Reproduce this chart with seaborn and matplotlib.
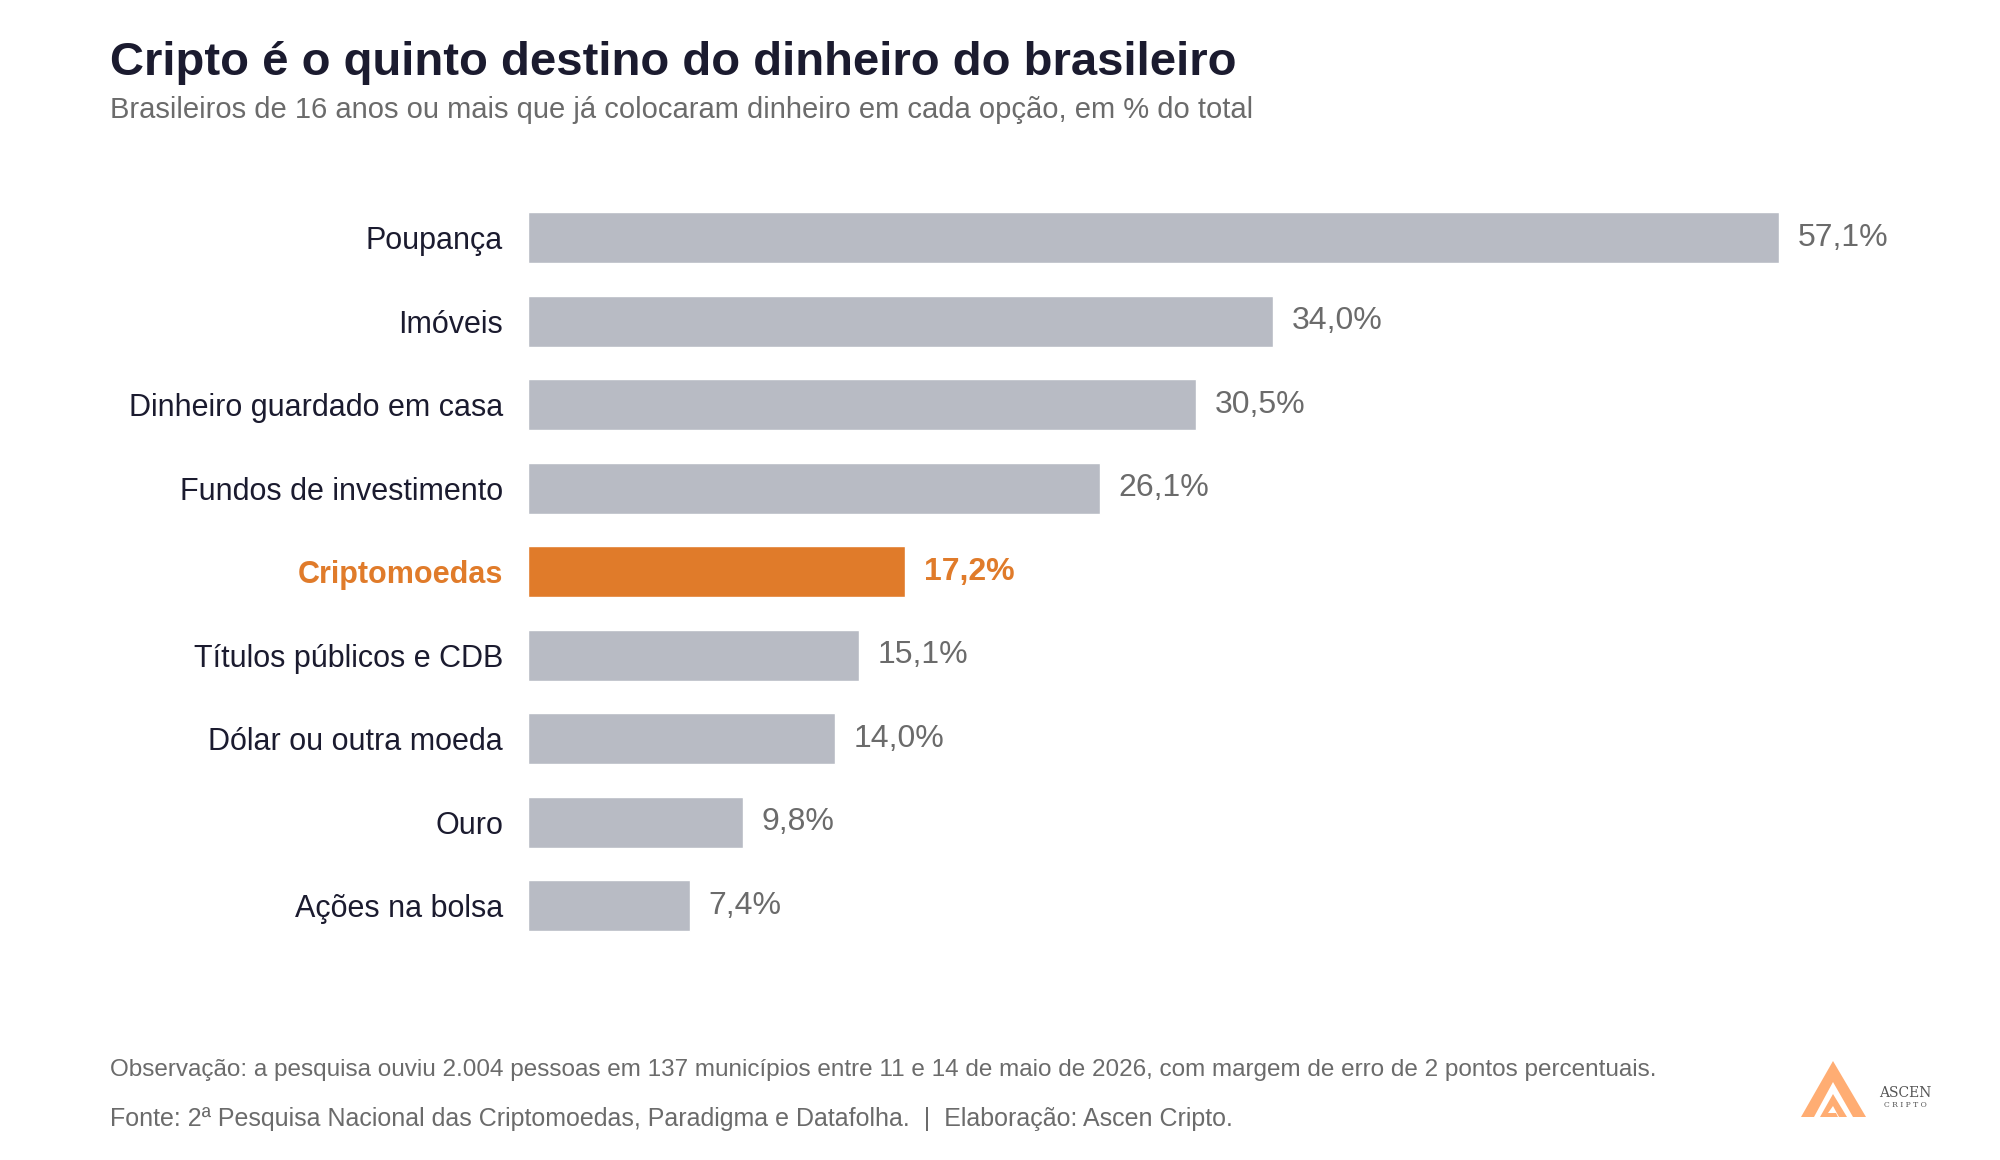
import matplotlib
matplotlib.use("Agg")
import matplotlib.pyplot as plt
import seaborn as sns
import pandas as pd
from matplotlib.patches import Polygon

# dados da pesquisa
categorias = ["Poupança", "Imóveis", "Dinheiro guardado em casa", "Fundos de investimento",
              "Criptomoedas", "Títulos públicos e CDB", "Dólar ou outra moeda", "Ouro",
              "Ações na bolsa"]
valores = [57.1, 34.0, 30.5, 26.1, 17.2, 15.1, 14.0, 9.8, 7.4]
destaque = "Criptomoedas"

CINZA = "#b8bbc4"
LARANJA = "#e07b2a"
ESCURO = "#1b1b2f"
TEXTO = "#6b6b6b"

sns.set_theme(style="white")
plt.rcParams["font.family"] = ["Liberation Sans", "DejaVu Sans"]

df = pd.DataFrame({"categoria": categorias, "valor": valores})
cores = {c: (LARANJA if c == destaque else CINZA) for c in categorias}

fig = plt.figure(figsize=(20, 11.6), dpi=100)
ax = fig.add_axes([0.264, 0.183, 0.686, 0.648])
sns.barplot(data=df, y="categoria", x="valor", hue="categoria", palette=cores,
            orient="h", width=0.61, legend=False, saturation=1, ax=ax)

ax.set_xlim(0, 62.6)
ax.set_ylim(len(categorias) - 0.5, -0.5)
ax.set_xlabel("")
ax.set_ylabel("")
ax.set_xticks([])
sns.despine(ax=ax, left=True, bottom=True)
ax.tick_params(axis="y", length=0, pad=18)
ax.set_yticks(range(len(categorias)))
ax.set_yticklabels(categorias, fontsize=22)
for lbl in ax.get_yticklabels():
    if lbl.get_text() == destaque:
        lbl.set_color(LARANJA)
        lbl.set_fontweight("bold")
    else:
        lbl.set_color(ESCURO)

for i, v in enumerate(valores):
    txt = f"{v:.1f}%".replace(".", ",")
    if categorias[i] == destaque:
        ax.text(v + 0.85, i, txt, va="center", ha="left", fontsize=23,
                color=LARANJA, fontweight="bold")
    else:
        ax.text(v + 0.85, i, txt, va="center", ha="left", fontsize=23, color=TEXTO)

# titulos
fig.text(0.055, 0.946, "Cripto é o quinto destino do dinheiro do brasileiro",
         fontsize=34, fontweight="bold", color=ESCURO, va="center", ha="left")
fig.text(0.055, 0.905, "Brasileiros de 16 anos ou mais que já colocaram dinheiro em cada opção, em % do total",
         fontsize=21, color=TEXTO, va="center", ha="left")

# rodape
fig.text(0.055, 0.078, "Observação: a pesquisa ouviu 2.004 pessoas em 137 municípios entre 11 e 14 de maio de 2026, com margem de erro de 2 pontos percentuais.",
         fontsize=17.5, color=TEXTO, va="center", ha="left")
fig.text(0.055, 0.035, "Fonte: 2ª Pesquisa Nacional das Criptomoedas, Paradigma e Datafolha.  |  Elaboração: Ascen Cripto.",
         fontsize=18, color=TEXTO, va="center", ha="left")

# logo Ascen
PESSEGO = "#ffad73"
W, H = 2000, 1160
def fp(x, y):
    return (x / W, 1 - y / H)
externo = [fp(1801, 1117), fp(1833, 1061), fp(1866, 1117), fp(1853, 1117),
           fp(1833, 1082), fp(1814, 1117)]
interno = [fp(1820, 1117), fp(1833, 1094), fp(1847, 1117), fp(1839, 1117),
           fp(1833, 1106), fp(1828, 1113), fp(1836, 1113), fp(1838, 1117)]
fig.patches.append(Polygon(externo, closed=True, transform=fig.transFigure,
                           facecolor=PESSEGO, edgecolor="none"))
fig.patches.append(Polygon(interno, closed=True, transform=fig.transFigure,
                           facecolor=PESSEGO, edgecolor="none"))
fig.text(1905 / W, 1 - 1093 / H, "ASCEN", fontsize=10, color="#555555",
         family="DejaVu Serif", ha="center", va="center")
fig.text(1905 / W, 1 - 1105 / H, "C R I P T O", fontsize=5.5, color="#555555",
         family="DejaVu Serif", ha="center", va="center")

fig.savefig("out.png", dpi=100, facecolor="white")
